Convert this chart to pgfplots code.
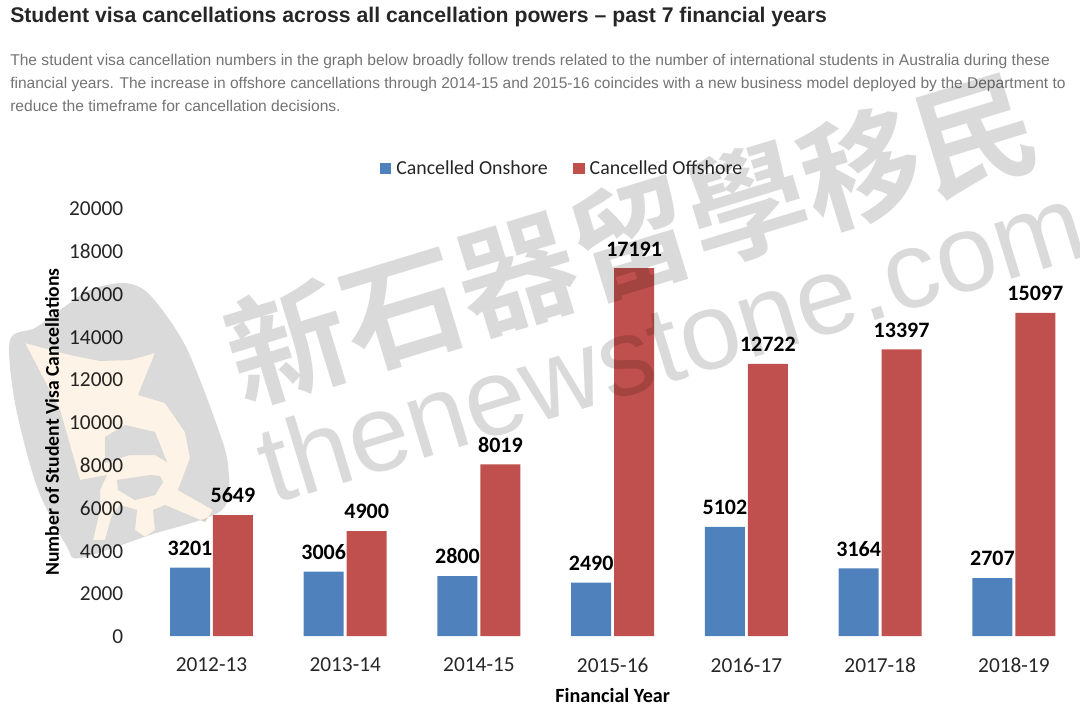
\documentclass[border=0pt]{standalone}
\usepackage{fontspec}
\usepackage{pgfplots}
\pgfplotsset{compat=1.18}
\usetikzlibrary{calc}
\setmainfont{Carlito}
\newfontfamily\headfont{Liberation Sans}
\newfontfamily\wmfont{Liberation Sans}
\newfontfamily\cjk{Noto Sans CJK TC}[BoldFont={Noto Sans CJK TC Bold}]
\definecolor{barblue}{HTML}{4F81BD}
\definecolor{barred}{HTML}{C0504D}
\definecolor{wmgray}{HTML}{DADADA}
\definecolor{wmcream}{HTML}{FDF3E6}
\pgfplotstableread{
x onshore offshore
0 3201 5649
1 3006 4900
2 2800 8019
3 2490 17191
4 5102 12722
5 3164 13397
6 2707 15097
}\visadata
\def\creamoutline{(25,343) -- (70,355) -- (100,361) -- (130,360) -- (155,353) -- (138,395) -- (165,403) -- (185,432) -- (190,458) -- (178,490) -- (213,510) -- (205,522) -- (165,505) -- (153,510) -- (155,530) -- (145,537) -- (135,530) -- (137,510) -- (120,505) -- (112,515) -- (105,540) -- (93,540) -- (100,510) -- (100,490) -- (107,475) -- (80,480) -- (60,410) -- cycle}
\def\holeone{(105,437) -- (125,425) -- (155,432) -- (167,462) -- (155,455) -- (130,455) -- (105,463) -- cycle}
\def\holetwo{(117,480) -- (150,475) -- (160,476) -- (163,482) -- (155,495) -- (135,500) -- (118,490) -- cycle}
\begin{document}
\begin{tikzpicture}[x=0.75pt,y=-0.75pt]
\path[use as bounding box] (0,0) rectangle (1080,712);
\begin{axis}[
  at={(108.45pt,-477pt)}, anchor=south west,
  scale only axis, width=702.2pt, height=321pt,
  x=100.3pt, y=0.01605pt,
  xmin=-0.5, xmax=6.5, ymin=0, ymax=20000,
  ybar, bar width=30pt,
  axis line style={draw=none}, tick style={draw=none},
  xtick=data,
  xticklabels={2012-13,2013-14,2014-15,2015-16,2016-17,2017-18,2018-19},
  ytick={0,2000,...,20000},
  scaled y ticks=false,
  /pgf/number format/assume math mode=true,
  /pgf/number format/fixed, /pgf/number format/set thousands separator={},
  tick label style={font=\fontsize{16}{18}\selectfont, text=black!85},
  yticklabel style={xshift=-12.5pt, yshift=-0.6pt},
  xticklabel style={yshift=-8.4pt},
  xlabel={\textbf{Financial Year}},
  xlabel style={font=\fontsize{15.1}{17}\selectfont, at={(axis description cs:0.5,0)}, anchor=center, yshift=-45pt},
  ylabel={\textbf{Number of Student Visa Cancellations}},
  ylabel style={font=\fontsize{14.7}{17}\selectfont, at={(axis description cs:0,0.5)}, anchor=center, yshift=69.5pt},
  nodes near coords,
  nodes near coords style={font=\bfseries\fontsize{16.5}{18}\selectfont, text=black, anchor=south, yshift=5.5pt},
  legend columns=2,
  legend style={draw=none, fill=none, at={(0.2509,1.067)}, anchor=south west, inner sep=0pt,
    font=\fontsize{14.9}{17}\selectfont, text=black!85,
    /tikz/every even column/.style={column sep=17pt}},
  legend image code/.code={\path (0pt,0pt) -- (10.4pt,0pt); \fill[#1] (0pt,-4.2pt) rectangle (8.6pt,4.4pt);},
]
\addplot+[bar shift=-16.1pt, fill=barblue, draw=none, mark=none] table[x=x,y=onshore] {\visadata};
\addplot+[bar shift=16.1pt, fill=barred, draw=none, mark=none] table[x=x,y=offshore] {\visadata};
\legend{Cancelled Onshore,Cancelled Offshore}
\end{axis}
% heading and paragraph
\node[anchor=west, inner sep=0pt, text=black!85] at (10,17) {\headfont\bfseries\fontsize{15.9}{17}\selectfont Student visa cancellations across all cancellation powers – past 7 financial years};
\node[anchor=west, inner sep=0pt, text=black!55] at (10,61.5) {\headfont\fontsize{11.7}{13}\selectfont The student visa cancellation numbers in the graph below broadly follow trends related to the number of international students in Australia during these};
\node[anchor=west, inner sep=0pt, text=black!55] at (10,84) {\headfont\fontsize{11.65}{13}\selectfont financial years. The increase in offshore cancellations through 2014-15 and 2015-16 coincides with a new business model deployed by the Department to};
\node[anchor=west, inner sep=0pt, text=black!55] at (10,106) {\headfont\fontsize{11.7}{13}\selectfont reduce the timeframe for cancellation decisions.};
% watermark
\begin{scope}[blend mode=multiply]
\fill[wmgray, even odd rule] plot[smooth cycle, tension=0.5] coordinates {(10,340) (35,328) (60,310) (90,290) (125,283) (150,295) (185,345) (215,420) (228,465) (222,510) (150,535) (80,558) (67,547) (37,487) (15,403)} \creamoutline;
\fill[wmcream, even odd rule] \creamoutline \holeone \holetwo;
\fill[wmgray] \holeone \holetwo;
\node[rotate=17, anchor=base west, inner sep=0pt, text=wmgray] at (243,405) {\cjk\bfseries\fontsize{90}{90}\selectfont 新石器留學移民};
\node[rotate=17, anchor=base west, inner sep=0pt, text=wmgray] at (272,505) {\wmfont\fontsize{82}{82}\selectfont thenewstone.com};
\end{scope}
\end{tikzpicture}
\end{document}
